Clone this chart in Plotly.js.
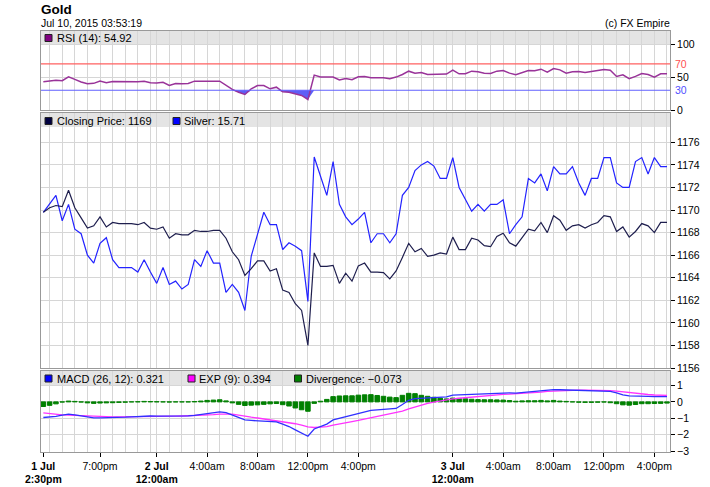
<!DOCTYPE html>
<html><head><meta charset="utf-8">
<script src="https://cdn.plot.ly/plotly-3.0.1.min.js"></script>
<style>html,body{margin:0;padding:0;background:#fff}#chart{width:710px;height:487px}</style>
</head><body><div id="chart"></div>
<script>
// ---- data (30-minute bars) ----
const gold = [1169.8,1170.2,1170.4,1170.3,1171.75,1170.2,1169.3,1168.4,1168.6,1169.4,
1168.5,1168.9,1168.8,1168.8,1168.8,1168.7,1168.9,1168.4,1168.3,1168.5,
1167.5,1167.9,1167.8,1167.8,1168.2,1168.1,1168.1,1168.2,1168.2,1167.5,
1166.3,1165.6,1164.2,1164.8,1165.5,1165.5,1164.6,1164.8,1162.9,1162.7,
1161.7,1161.1,1158.0,1166.2,1165.0,1165.0,1165.1,1163.5,1164.4,1163.7,
1165.05,1165.3,1164.5,1164.5,1164.45,1163.9,1164.6,1165.8,1167.05,1166.3,
1166.6,1165.9,1166.0,1166.2,1166.1,1167.6,1166.5,1166.5,1167.5,1167.35,
1166.85,1166.75,1167.65,1167.95,1167.1,1166.8,1167.5,1168.3,1168.15,1168.9,
1168.0,1169.5,1169.1,1168.2,1168.6,1168.7,1168.4,1168.7,1168.9,1169.5,
1169.4,1168.1,1168.5,1167.6,1168.1,1168.8,1168.6,1168.0,1168.9,1168.9];

// silver comparison series, as drawn on the gold price scale
const silverOnGoldScale = [1169.8,1170.55,1171.3,1169.05,1170.5,1168.3,1167.9,1166.0,1165.3,1167.05,
1167.55,1165.6,1164.9,1164.9,1164.9,1164.5,1165.6,1164.5,1163.5,1164.9,
1163.4,1163.7,1163.0,1163.4,1165.6,1165.0,1166.4,1165.3,1165.3,1162.7,
1163.4,1162.7,1161.1,1165.9,1167.9,1169.8,1168.7,1168.7,1166.5,1167.1,
1166.8,1166.4,1161.9,1174.7,1173.0,1171.3,1174.3,1170.5,1169.4,1168.7,
1169.2,1169.8,1167.1,1167.9,1167.9,1167.1,1167.9,1171.3,1172.0,1173.5,
1174.0,1174.3,1173.9,1172.8,1172.8,1174.65,1172.0,1170.9,1169.9,1170.5,
1169.9,1170.5,1170.5,1170.9,1167.9,1168.7,1169.4,1172.8,1172.4,1173.2,
1171.7,1173.85,1173.2,1173.2,1173.85,1172.4,1171.3,1172.8,1172.8,1174.65,
1174.65,1172.4,1172.0,1172.0,1174.3,1174.65,1173.2,1174.65,1173.85,1173.85];

const rsi = [42.8,44,45,44.5,50.5,46.5,42.5,40,40.5,44,
41.3,43.3,43,43,43,42.8,43.8,41.5,41,42,
37.2,40.3,40,40.3,43.8,43.5,43.5,43.8,43.8,37,
31.2,27,23.6,32.2,37.2,37.2,32.2,34.7,27.6,27.1,
25.1,22.1,16.0,53,50,50,50,45.5,48,46,
50.5,51,49,49,49,47.5,50,54,59,56,
57,54,54.5,55,54.5,60.5,55,55,59,58,
56,55.5,59,60,56,53.5,56.5,60,59.5,62,
57.5,63,61,56,58,58.5,57,58.5,59.5,61.5,
60.5,51,53.5,47.5,51,55.5,54,50,55,54.92];

const macd = [-0.95,-0.93,-0.88,-0.8,-0.75,-0.79,-0.86,-0.93,-0.97,-0.97,
-0.97,-0.96,-0.94,-0.93,-0.91,-0.89,-0.86,-0.86,-0.87,-0.87,
-0.88,-0.87,-0.86,-0.85,-0.82,-0.77,-0.71,-0.66,-0.61,-0.66,
-0.8,-0.95,-1.1,-1.13,-1.16,-1.19,-1.2,-1.22,-1.35,-1.5,
-1.7,-1.9,-2.09,-1.65,-1.5,-1.35,-1.1,-1.0,-0.93,-0.83,
-0.72,-0.62,-0.52,-0.49,-0.47,-0.44,-0.4,-0.16,0.1,0.2,
0.22,0.25,0.27,0.29,0.31,0.41,0.43,0.45,0.46,0.48,
0.5,0.53,0.55,0.57,0.55,0.53,0.57,0.61,0.64,0.69,
0.7,0.75,0.74,0.73,0.71,0.7,0.69,0.69,0.69,0.69,
0.64,0.55,0.43,0.36,0.36,0.37,0.34,0.32,0.31,0.321];

const expSignal = [-0.67,-0.72,-0.76,-0.79,-0.8,-0.82,-0.85,-0.87,-0.88,-0.9,
-0.91,-0.91,-0.91,-0.91,-0.91,-0.9,-0.89,-0.88,-0.88,-0.87,
-0.87,-0.87,-0.86,-0.85,-0.84,-0.82,-0.8,-0.77,-0.74,-0.72,
-0.74,-0.8,-0.88,-0.93,-0.98,-1.04,-1.08,-1.12,-1.18,-1.25,
-1.33,-1.42,-1.52,-1.56,-1.54,-1.5,-1.42,-1.36,-1.3,-1.2,
-1.13,-1.05,-0.96,-0.88,-0.81,-0.73,-0.66,-0.56,-0.42,-0.3,
-0.18,-0.09,-0.01,0.06,0.13,0.18,0.22,0.26,0.3,0.34,
0.37,0.4,0.43,0.46,0.47,0.49,0.51,0.54,0.57,0.6,
0.64,0.66,0.69,0.7,0.71,0.72,0.72,0.72,0.71,0.7,
0.69,0.66,0.61,0.56,0.52,0.48,0.45,0.42,0.4,0.394];

const divergence = [-0.28,-0.21,-0.12,-0.01,0.05,0.03,-0.01,-0.06,-0.09,-0.07,
-0.06,-0.05,-0.03,-0.02,0.0,0.01,0.03,0.02,0.01,0.0,
-0.01,0.0,0.0,0.0,0.02,0.05,0.09,0.11,0.13,0.06,
-0.06,-0.15,-0.22,-0.2,-0.18,-0.15,-0.12,-0.1,-0.17,-0.25,
-0.37,-0.48,-0.57,-0.09,0.04,0.15,0.32,0.36,0.37,0.37,
0.41,0.43,0.44,0.39,0.34,0.29,0.26,0.4,0.52,0.5,
0.4,0.34,0.28,0.23,0.18,0.23,0.21,0.19,0.16,0.14,
0.13,0.13,0.12,0.11,0.08,0.04,0.06,0.07,0.07,0.09,
0.06,0.09,0.05,0.03,0.0,-0.02,-0.03,-0.03,-0.02,-0.01,
-0.05,-0.11,-0.18,-0.2,-0.16,-0.11,-0.11,-0.1,-0.09,-0.073];

const tickIdx = [0, 9, 18, 26, 34, 42, 50, 65, 73, 81, 89, 97];
const tickText = ['<b>1 Jul</b><br><b>2:30pm</b>','7:00pm','<b>2 Jul</b><br><b>12:00am</b>','4:00am','8:00am','12:00pm','4:00pm',
  '<b>3 Jul</b><br><b>12:00am</b>','4:00am','8:00am','12:00pm','4:00pm'];
const goldTicks = [1156,1158,1160,1162,1164,1166,1168,1170,1172,1174,1176];
const rsiTicks = [0, 50, 100];
const macdTicks = [-3, -2, -1, 0, 1];

// ---- layout helpers ----
const idx = gold.map((_, i) => i);
const gridVals = [];
for (let i = 1; i <= 17; i += 2) gridVals.push(i);
for (let i = 18; i <= 64; i += 2) gridVals.push(i);
for (let i = 65; i <= 99; i += 2) gridVals.push(i);

const L = 41, R = 670, T = 31, B = 452;
const px = v => (v - L) / (R - L);
const py = v => (B - v) / (B - T);
const FONT = 'Arial, "Liberation Sans", sans-serif';
const fs = 10.5;

const xRange = [-0.37, 99.48];
const rangeMacd = [-3.05, 1.88], rangeGold = [1156, 1178.6], rangeRsi = [0, 120];

const xCommon = {
  range: xRange, showgrid: false, zeroline: false,
  showline: true, mirror: true, linecolor: '#999', linewidth: 1,
  tickmode: 'array', tickvals: tickIdx, ticktext: tickText,
  fixedrange: true
};
const yCommon = {
  side: 'right', showline: true, mirror: true, linecolor: '#999', linewidth: 1,
  ticks: 'outside', ticklen: 4, tickcolor: '#000', zeroline: false,
  showgrid: true, gridcolor: '#d6d6d6', gridwidth: 1,
  tickfont: {family: FONT, size: fs, color: '#000'}, tickmode: 'array', fixedrange: true
};

// hourly vertical grid lines: bar-index position -> pixel-snapped paper position
function gridX(v) {
  const pix = L + (v - xRange[0]) / (xRange[1] - xRange[0]) * (R - L);
  return px(Math.floor(pix) + 0.5);
}
function vgridShapes(top, bottom) {
  return gridVals.map(v => ({type: 'line', xref: 'paper', yref: 'paper', x0: gridX(v), x1: gridX(v), y0: py(bottom), y1: py(top),
    line: {color: '#d6d6d6', width: 1}, layer: 'below'}));
}

const traces = [
  {x: idx, y: idx.map(() => 30), xaxis: 'x3', yaxis: 'y3', mode: 'lines', line: {width: 0, color: 'rgba(0,0,0,0)'}, hoverinfo: 'skip'},
  {x: idx, y: rsi.map(v => Math.min(v, 30)), xaxis: 'x3', yaxis: 'y3', mode: 'lines', line: {width: 0, color: 'rgba(0,0,0,0)'}, fill: 'tonexty', fillcolor: 'rgba(85,85,245,0.95)', hoverinfo: 'skip'},
  {x: idx, y: rsi, xaxis: 'x3', yaxis: 'y3', mode: 'lines', line: {color: '#993399', width: 1.5}, name: 'RSI'},
  {x: idx, y: silverOnGoldScale, xaxis: 'x2', yaxis: 'y2', mode: 'lines', line: {color: '#2323ff', width: 1.2}, name: 'Silver'},
  {x: idx, y: gold, xaxis: 'x2', yaxis: 'y2', mode: 'lines', line: {color: '#1e1e4e', width: 1.2}, name: 'Closing Price'},
  {x: idx, y: divergence, xaxis: 'x', yaxis: 'y', type: 'bar', width: 0.72, marker: {color: '#008000', line: {color: '#008000', width: 1}}, name: 'Divergence'},
  {x: idx, y: expSignal, xaxis: 'x', yaxis: 'y', mode: 'lines', line: {color: '#ff33ff', width: 1.3}, name: 'EXP'},
  {x: idx, y: macd, xaxis: 'x', yaxis: 'y', mode: 'lines', line: {color: '#3030ff', width: 1.3}, name: 'MACD'}
];

function band(top, bottom) {
  return {type: 'rect', xref: 'paper', yref: 'paper', x0: 0, x1: 1, y0: py(bottom), y1: py(top),
    fillcolor: '#e4e4e4', line: {width: 0}, layer: 'below'};
}
function square(x, yc, color) {
  return {type: 'rect', xref: 'paper', yref: 'paper', x0: px(x), x1: px(x + 7), y0: py(yc + 3.5), y1: py(yc - 3.5),
    fillcolor: color, line: {color: '#222', width: 1}, layer: 'above'};
}
function label(x, yc, text) {
  return {xref: 'paper', yref: 'paper', x: px(x), y: py(yc), xanchor: 'left', yanchor: 'middle',
    text: text, showarrow: false, font: {family: FONT, size: 11, color: '#000'}};
}

const shapes = [
  band(31, 44), band(113, 127), band(371, 385.5),
  ...vgridShapes(31, 110), ...vgridShapes(113, 368), ...vgridShapes(371, 452),
  {type: 'line', xref: 'paper', yref: 'y3', x0: 0, x1: 1, y0: 70, y1: 70, line: {color: '#ff6060', width: 1.2}, layer: 'above'},
  {type: 'line', xref: 'paper', yref: 'y3', x0: 0, x1: 1, y0: 30, y1: 30, line: {color: '#6060ff', width: 1.2}, layer: 'above'},
  square(45, 38, '#800080'),
  square(45, 121, '#000040'),
  square(173, 121, '#0000ff'),
  square(45, 378.5, '#0000ff'),
  square(188, 378.5, '#ff00ff'),
  square(294.5, 378.5, '#008000')
];

const annotations = [
  {xref: 'paper', yref: 'paper', x: px(39), y: py(9), xanchor: 'left', yanchor: 'middle', showarrow: false,
   text: '<b>Gold</b>', font: {family: FONT, size: 13.5, color: '#000'}},
  {xref: 'paper', yref: 'paper', x: px(39), y: py(23), xanchor: 'left', yanchor: 'middle', showarrow: false,
   text: 'Jul 10, 2015 03:53:19', font: {family: FONT, size: fs, color: '#000'}},
  {xref: 'paper', yref: 'paper', x: px(672), y: py(23), xanchor: 'right', yanchor: 'middle', showarrow: false,
   text: '(c) FX Empire', font: {family: FONT, size: fs, color: '#000'}},
  label(55, 38, 'RSI (14): 54.92'),
  label(55, 121, 'Closing Price: 1169'),
  label(182, 121, 'Silver: 15.71'),
  label(55, 378.5, 'MACD (26, 12): 0.321'),
  label(197, 378.5, 'EXP (9): 0.394'),
  label(304, 378.5, 'Divergence: \u22120.073'),
  {xref: 'paper', yref: 'y3', x: 1, y: 70, xanchor: 'left', yanchor: 'middle', xshift: 3, showarrow: false,
   text: '70', font: {family: FONT, size: fs, color: '#ff5050'}},
  {xref: 'paper', yref: 'y3', x: 1, y: 30, xanchor: 'left', yanchor: 'middle', xshift: 3, showarrow: false,
   text: '30', font: {family: FONT, size: fs, color: '#5050ff'}}
];

const layout = {
  width: 710, height: 487,
  margin: {l: L, r: 710 - R, t: T, b: 487 - B, pad: 0},
  paper_bgcolor: '#fff', plot_bgcolor: 'rgba(0,0,0,0)',
  showlegend: false, bargap: 0,
  font: {family: FONT, size: fs, color: '#000'},
  xaxis: Object.assign({}, xCommon, {anchor: 'y', ticks: 'outside', ticklen: 4, tickcolor: '#000', showticklabels: true,
    tickfont: {family: FONT, size: fs, color: '#000'}}),
  xaxis2: Object.assign({}, xCommon, {anchor: 'y2', ticks: '', showticklabels: false}),
  xaxis3: Object.assign({}, xCommon, {anchor: 'y3', ticks: '', showticklabels: false}),
  yaxis: Object.assign({}, yCommon, {domain: [0, py(371)], range: rangeMacd, tickvals: macdTicks}),
  yaxis2: Object.assign({}, yCommon, {domain: [py(368), py(113)], range: rangeGold, tickvals: goldTicks}),
  yaxis3: Object.assign({}, yCommon, {domain: [py(110), 1], range: rangeRsi, tickvals: rsiTicks}),
  shapes: shapes,
  annotations: annotations
};

Plotly.newPlot('chart', traces, layout, {displayModeBar: false, staticPlot: true});
</script>
</body></html>
